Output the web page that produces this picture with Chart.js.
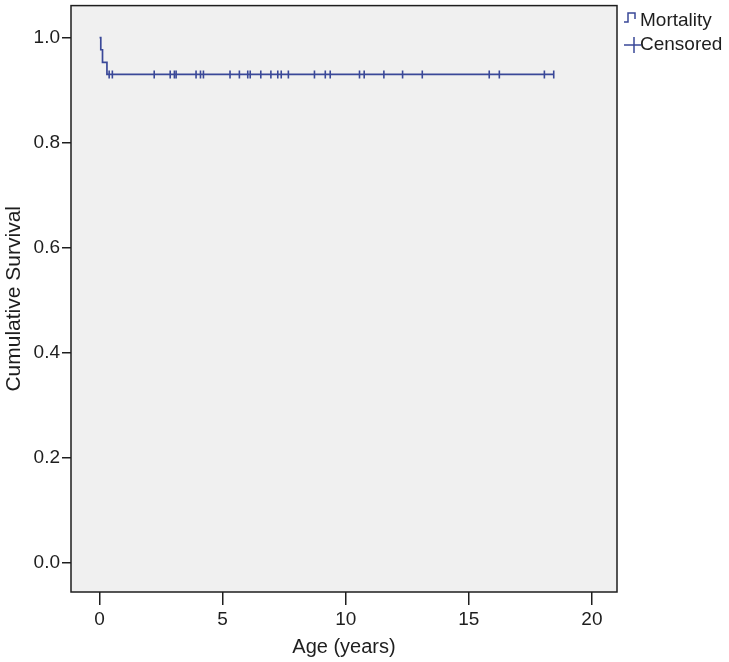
<!DOCTYPE html>
<html>
<head>
<meta charset="utf-8">
<script src="https://cdn.jsdelivr.net/npm/chart.js@4"></script>
<style>
  html, body { margin: 0; padding: 0; background: #fff; }
</style>
</head>
<body>
<canvas id="myChart" width="729" height="662"></canvas>
<script>
// Kaplan-Meier steps (time in years, cumulative survival)
var stepTimes = [0, 0.05, 0.12, 0.30, 18.45];
var stepSurvival = [1.0, 0.977, 0.953, 0.930, 0.930];
// censored observations (years)
var censoredTimes = [0.39, 0.52, 2.22, 2.87, 3.04, 3.11, 3.92, 4.10, 4.22, 5.30,
  5.68, 6.02, 6.12, 6.55, 6.96, 7.24, 7.38, 7.67, 8.73, 9.17,
  9.37, 10.56, 10.75, 11.55, 12.31, 13.11, 15.83, 16.24, 18.07, 18.45];
var xTicks = [0, 5, 10, 15, 20];
var yTicks = [0.0, 0.2, 0.4, 0.6, 0.8, 1.0];
var legendLabels = ['Mortality', 'Censored'];

var lineColor = '#3a4898';
var inkColor = '#1e1e1e';
var fontFamily = '"Liberation Sans", Arial, sans-serif';

function survivalAt(t) {
  var s = stepSurvival[0];
  for (var i = 0; i < stepTimes.length; i++) {
    if (stepTimes[i] <= t) s = stepSurvival[i];
  }
  return s;
}

var curvePoints = stepTimes.map(function (t, i) { return { x: t, y: stepSurvival[i] }; });
var censorPoints = censoredTimes.map(function (t) { return { x: t, y: survivalAt(t) }; });

// no extra room for the end tick labels
function noLabelPadding(scale) {
  scale.paddingTop = 0;
  scale.paddingBottom = 0;
  scale.paddingLeft = 0;
  scale.paddingRight = 0;
}

var plotFrame = {
  id: 'plotFrame',
  beforeDraw: function (chart) {
    var a = chart.chartArea, c = chart.ctx;
    c.save();
    c.fillStyle = '#f0f0f0';
    c.fillRect(a.left, a.top, a.right - a.left, a.bottom - a.top);
    c.restore();
  },
  afterDraw: function (chart) {
    var a = chart.chartArea, c = chart.ctx;
    c.save();
    c.strokeStyle = inkColor;
    c.lineWidth = 1.5;
    c.strokeRect(a.left, a.top, a.right - a.left, a.bottom - a.top);

    // legend, outside the plot at the top right
    var lx = a.right + 7;
    c.strokeStyle = lineColor;
    c.lineWidth = 1.5;
    c.beginPath();
    c.moveTo(lx, 22); c.lineTo(lx + 4, 22); c.lineTo(lx + 4, 13);
    c.lineTo(lx + 11, 13); c.lineTo(lx + 11, 19);
    c.stroke();
    c.beginPath();
    c.moveTo(lx, 45); c.lineTo(lx + 17, 45);
    c.moveTo(lx + 10, 37); c.lineTo(lx + 10, 53);
    c.stroke();

    c.fillStyle = inkColor;
    c.font = '19px ' + fontFamily;
    c.textBaseline = 'middle';
    c.textAlign = 'left';
    c.fillText(legendLabels[0], lx + 16, 21);
    c.fillText(legendLabels[1], lx + 16, 45);
    c.restore();
  }
};

var ctx = document.getElementById('myChart').getContext('2d');
var myChart = new Chart(ctx, {
  type: 'scatter',
  data: {
    datasets: [{
      label: legendLabels[0],
      data: curvePoints,
      showLine: true,
      stepped: true,
      borderColor: lineColor,
      borderWidth: 1.7,
      pointRadius: 0,
      fill: false
    }, {
      label: legendLabels[1],
      data: censorPoints,
      showLine: false,
      pointStyle: 'line',
      rotation: 90,
      pointRadius: 4,
      borderColor: lineColor,
      borderWidth: 1.6
    }]
  },
  options: {
    responsive: false,
    animation: false,
    events: [],
    layout: { padding: { top: 4, right: 112, left: 0, bottom: 0 } },
    plugins: {
      legend: { display: false },
      tooltip: { enabled: false }
    },
    scales: {
      x: {
        type: 'linear',
        min: -1.16,
        max: 21.02,
        afterBuildTicks: function (scale) {
          scale.ticks = xTicks.map(function (v) { return { value: v }; });
        },
        afterFit: function (scale) {
          scale.height = 70;
          noLabelPadding(scale);
        },
        ticks: {
          color: inkColor,
          font: { family: fontFamily, size: 19 },
          padding: 3
        },
        grid: {
          drawOnChartArea: false,
          tickLength: 13,
          color: inkColor,
          lineWidth: 1.5
        },
        border: { display: false },
        title: {
          display: true,
          text: 'Age (years)',
          color: inkColor,
          font: { family: fontFamily, size: 20 },
          padding: { top: 0, bottom: 3 }
        }
      },
      y: {
        type: 'linear',
        min: -0.055,
        max: 1.061,
        afterBuildTicks: function (scale) {
          scale.ticks = yTicks.map(function (v) { return { value: v }; });
        },
        afterFit: function (scale) {
          scale.width = 71;
          noLabelPadding(scale);
        },
        ticks: {
          color: inkColor,
          font: { family: fontFamily, size: 19 },
          padding: 2,
          callback: function (v) { return v.toFixed(1); }
        },
        grid: {
          drawOnChartArea: false,
          tickLength: 9,
          color: inkColor,
          lineWidth: 1.5
        },
        border: { display: false },
        title: {
          display: true,
          text: 'Cumulative Survival',
          color: inkColor,
          font: { family: fontFamily, size: 21 },
          padding: { top: 2, bottom: 0 }
        }
      }
    }
  },
  plugins: [plotFrame]
});
</script>
</body>
</html>
